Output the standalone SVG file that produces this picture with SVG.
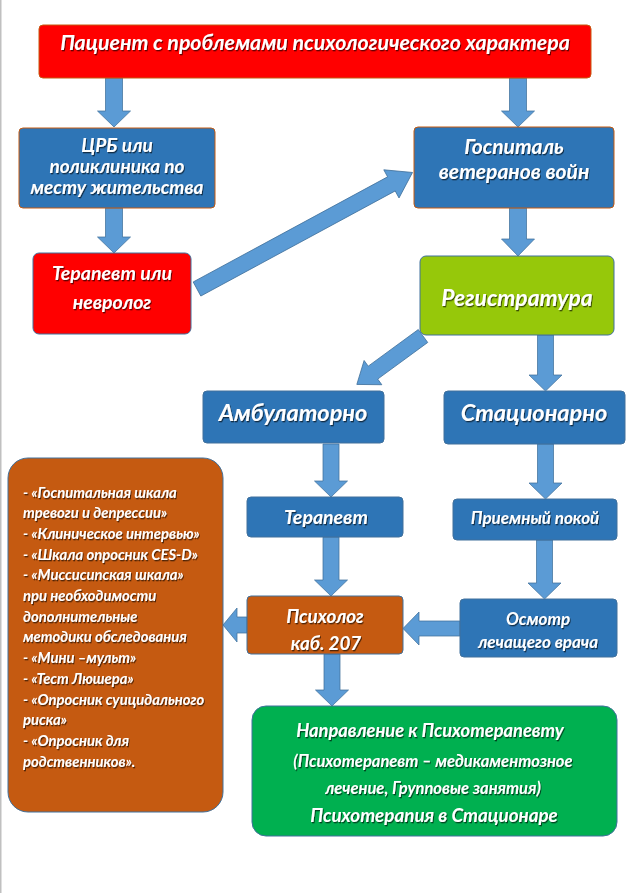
<svg xmlns="http://www.w3.org/2000/svg" width="636" height="893" viewBox="0 0 636 893">
<defs>
<filter id="sh" x="-10%" y="-30%" width="120%" height="160%">
<feDropShadow dx="1" dy="1.3" stdDeviation="0.7" flood-color="#000" flood-opacity="0.6"/>
</filter>
<style>
.t{font-family:Lato,"Liberation Sans",sans-serif;font-weight:bold;font-style:italic;fill:#fff;text-anchor:middle;filter:url(#sh)}
.tl{font-family:Lato,"Liberation Sans",sans-serif;font-weight:bold;font-style:italic;fill:#fff;filter:url(#sh);font-size:14.8px}
.ar{fill:#5b9bd5;stroke:#41719c;stroke-width:0.75}
.blue{fill:#2e75b6;stroke:#41719c;stroke-width:1}
.blueo{fill:#2e75b6;stroke:#c55a11;stroke-width:1}
</style>
</defs>
<rect x="0" y="0" width="636" height="893" fill="#fff"/>
<rect x="0" y="0" width="1.5" height="893" fill="#c0c0c0"/>

<g id="connectors">
<polygon class="ar" points="105.5,78 122.5,78 122.5,111 130.5,111 114,127 97.5,111 105.5,111"/>
<polygon class="ar" points="509.5,78 526.5,78 526.5,111 534.5,111 518,127 501.5,111 509.5,111"/>
<polygon class="ar" points="105.5,208 122.5,208 122.5,237 130.5,237 114,253 97.5,237 105.5,237"/>
<polygon class="ar" points="509.5,208 526.5,208 526.5,239 534.5,239 518,256 501.5,239 509.5,239"/>
<polygon class="ar" points="537.5,335 553.5,335 553.5,375 562,375 545.5,391 529,375 537.5,375"/>
<polygon class="ar" points="537.5,444 553.5,444 553.5,483 562,483 545.5,499 529,483 537.5,483"/>
<polygon class="ar" points="536.5,540 552.5,540 552.5,583 561,583 544.5,599 528,583 536.5,583"/>
<polygon class="ar" points="323,444 339,444 339,481 347.5,481 331,497 314.5,481 323,481"/>
<polygon class="ar" points="323,537 339,537 339,580 347.5,580 331,596 314.5,580 323,580"/>
<polygon class="ar" points="324,654 340,654 340,690 348.5,690 332,706 315.5,690 324,690"/>
<polygon class="ar" points="460,621 419,621 419,612 403,628.5 419,645 419,636 460,636"/>
<polygon class="ar" points="247,617 237,617 237,608 223,625 237,642 237,633 247,633"/>
<polygon class="ar" transform="translate(197,289) rotate(-28.4)" points="0,-8 221,-8 221,-16 245,0 221,16 221,8 0,8"/>
<polygon class="ar" transform="translate(423,336) rotate(143.8)" points="0,-8 62,-8 62,-15 82,0 62,15 62,8 0,8"/>
</g>

<g id="patient">
<rect x="39" y="25" width="552" height="53" rx="4" fill="#ff0000" stroke="#c55a11" stroke-width="1"/>
<text class="t" x="315" y="50" font-size="21.3">Пациент с проблемами психологического характера</text>
</g>

<g id="crb">
<rect class="blueo" x="19" y="128" width="196" height="80" rx="4"/>
<text class="t" x="117" y="151.5" font-size="19">ЦРБ или</text>
<text class="t" x="117" y="172.5" font-size="19">поликлиника по</text>
<text class="t" x="117" y="193.5" font-size="19">месту жительства</text>
</g>

<g id="gospital">
<rect class="blueo" x="414" y="127" width="200" height="81" rx="4"/>
<text class="t" x="514" y="153.5" font-size="21">Госпиталь</text>
<text class="t" x="514" y="178.5" font-size="21">ветеранов войн</text>
</g>

<g id="terapevt-nevrolog">
<rect x="33" y="253" width="158" height="81" rx="6" fill="#ff0000" stroke="#41719c" stroke-width="1"/>
<text class="t" x="112" y="279.5" font-size="19.5">Терапевт или</text>
<text class="t" x="112" y="308.5" font-size="19.5">невролог</text>
</g>

<g id="registratura">
<rect x="420" y="256" width="194" height="79" rx="6" fill="#96c80a" stroke="#41719c" stroke-width="1"/>
<text class="t" x="517" y="305.5" font-size="22.8">Регистратура</text>
</g>

<g id="ambulatorno">
<rect class="blue" x="203" y="391" width="181" height="52" rx="4"/>
<text class="t" x="293" y="421" font-size="23.5">Амбулаторно</text>
</g>

<g id="stacionarno">
<rect class="blue" x="444" y="391" width="181" height="53" rx="4"/>
<text class="t" x="534" y="421" font-size="23.5">Стационарно</text>
</g>

<g id="terapevt">
<rect class="blue" x="247" y="497" width="156" height="40" rx="4"/>
<text class="t" x="326" y="524" font-size="19.5">Терапевт</text>
</g>

<g id="priemny">
<rect class="blue" x="453" y="499" width="164" height="41" rx="4"/>
<text class="t" x="535" y="523.5" font-size="17">Приемный покой</text>
</g>

<g id="psiholog">
<rect x="247" y="596" width="156" height="58" rx="4" fill="#c55a11" stroke="#41719c" stroke-width="1"/>
<text class="t" x="325" y="623" font-size="18.8">Психолог</text>
<text class="t" x="326" y="649.5" font-size="18.8">каб. 207</text>
</g>

<g id="osmotr">
<rect class="blue" x="460" y="599" width="157" height="58" rx="4"/>
<text class="t" x="538" y="624.5" font-size="17">Осмотр</text>
<text class="t" x="538" y="648" font-size="17">лечащего врача</text>
</g>

<g id="tests">
<rect x="8" y="458" width="215" height="354" rx="20" fill="#c55a11" stroke="#41719c" stroke-width="1"/>
<text class="tl" x="23" y="497.5">- «Госпитальная шкала</text>
<text class="tl" x="23" y="518.2">тревоги и депрессии»</text>
<text class="tl" x="23" y="538.9">- «Клиническое интервью»</text>
<text class="tl" x="23" y="559.6">- «Шкала опросник CES-D»</text>
<text class="tl" x="23" y="580.3">- «Миссисипская шкала»</text>
<text class="tl" x="23" y="601">при необходимости</text>
<text class="tl" x="23" y="621.7">дополнительные</text>
<text class="tl" x="23" y="642.4">методики обследования</text>
<text class="tl" x="23" y="663.1">- «Мини –мульт»</text>
<text class="tl" x="23" y="683.8">- «Тест Люшера»</text>
<text class="tl" x="23" y="704.5">- «Опросник суицидального</text>
<text class="tl" x="23" y="725.2">риска»</text>
<text class="tl" x="23" y="745.9">- «Опросник для</text>
<text class="tl" x="23" y="766.6">родственников».</text>
</g>

<g id="napravlenie">
<rect x="252" y="706" width="365" height="130" rx="14" fill="#00b050" stroke="#41719c" stroke-width="1"/>
<text class="t" x="430" y="736.5" font-size="18.3">Направление к Психотерапевту</text>
<text class="t" x="433" y="767" font-size="16.5">(Психотерапевт – медикаментозное</text>
<text class="t" x="433" y="794" font-size="16.5">лечение, Групповые занятия)</text>
<text class="t" x="434" y="821.5" font-size="18.8">Психотерапия в Стационаре</text>
</g>
</svg>
